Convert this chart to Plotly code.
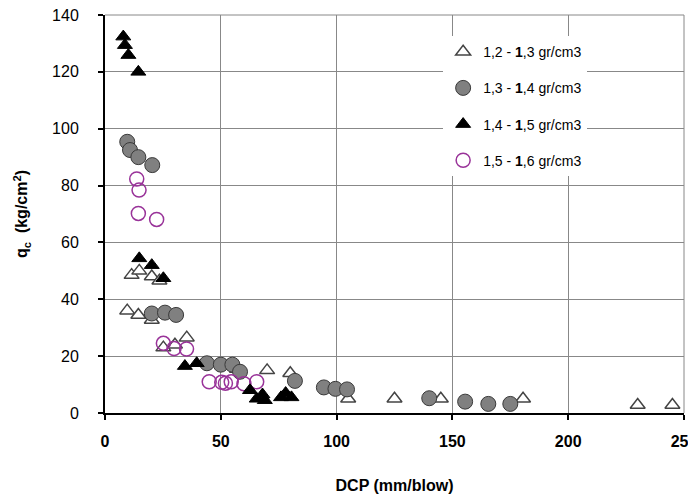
import plotly.graph_objects as go

# 1,2 - 1,3 gr/cm3 (open triangles)
s1_x = [9.6, 11.5, 14.4, 14.8, 20.2, 20.2, 23.5, 25.2, 30.2, 35.3, 57, 70, 80, 105, 125, 145, 180.5, 230, 245]
s1_y = [36, 48.5, 34.5, 50, 48, 32.7, 46.5, 23, 24, 26.5, 15.5, 15, 14, 5, 5, 5, 5, 2.8, 2.8]
# 1,3 - 1,4 gr/cm3 (grey circles)
s2_x = [9.6, 10.8, 14.4, 20.4, 20.2, 25.9, 30.7, 44, 50, 55, 58.3, 82, 94.5, 99.5, 104.5, 140, 155.5, 165.5, 175]
s2_y = [95.4, 92.5, 90, 87.2, 35, 35.3, 34.5, 17.5, 17, 17, 14.5, 11.3, 9, 8.5, 8.3, 5.2, 4, 3.2, 3.2]
# 1,4 - 1,5 gr/cm3 (black triangles)
s3_x = [7.9, 8.6, 10.1, 14.4, 14.8, 20.2, 25.2, 34.5, 39.6, 62.6, 65.5, 68, 69, 76, 78, 80.5]
s3_y = [132.4, 129.4, 125.9, 120, 54.4, 52, 47.4, 16.5, 17.5, 8, 5, 6.5, 4.5, 5.5, 7, 5.5]
# 1,5 - 1,6 gr/cm3 (purple open circles)
s4_x = [13.7, 14.7, 14.4, 22.3, 25.2, 29.8, 35.2, 45, 50.4, 52, 54.5, 60, 65.5]
s4_y = [82.3, 78.4, 70.2, 68.1, 24.5, 22.7, 22.5, 11, 10.8, 10.5, 11, 10.3, 11]

x_ticks = [0, 50, 100, 150, 200, 250]
y_ticks = [0, 20, 40, 60, 80, 100, 120, 140]

names = ["1,2 - <b>1</b>,3 gr/cm3", "1,3 - <b>1</b>,4 gr/cm3", "1,4 - <b>1</b>,5 gr/cm3", "1,5 - <b>1</b>,6 gr/cm3"]

fig = go.Figure()
fig.add_trace(go.Scatter(x=s1_x, y=s1_y, mode="markers", name=names[0], legendrank=1, legendgroup="a",
                         marker=dict(symbol="triangle-up", size=13, color="white",
                                     line=dict(color="#444444", width=1.5))))
fig.add_trace(go.Scatter(x=s2_x, y=s2_y, mode="markers", name=names[1], legendrank=2, legendgroup="b",
                         marker=dict(symbol="circle", size=15, color="#808080",
                                     line=dict(color="#3a3a3a", width=1))))
fig.add_trace(go.Scatter(x=s4_x, y=s4_y, mode="markers", name=names[3], legendrank=4, legendgroup="d",
                         marker=dict(symbol="circle-open", size=14, color="#993399",
                                     line=dict(color="#993399", width=1.5))))
fig.add_trace(go.Scatter(x=s3_x, y=s3_y, mode="markers", name=names[2], legendrank=3, legendgroup="c",
                         marker=dict(symbol="triangle-up", size=13, color="black",
                                     line=dict(color="black", width=1))))

# thin grey frame on the top and right sides of the plot area
fig.add_shape(type="line", xref="paper", yref="paper", x0=0, x1=1, y0=1, y1=1,
              line=dict(color="#888888", width=1), layer="below")
fig.add_shape(type="line", xref="paper", yref="paper", x0=1, x1=1, y0=0, y1=1,
              line=dict(color="#888888", width=1), layer="below")

fig.update_layout(
    width=688, height=486,
    margin=dict(l=97, r=12, t=7, b=81),
    paper_bgcolor="white", plot_bgcolor="white",
    font=dict(family="Liberation Sans, Arial, sans-serif", color="black"),
    showlegend=True,
    legend=dict(x=0.584, y=0.947, xanchor="left", yanchor="top", bgcolor="white",
                font=dict(size=14, color="black"), tracegroupgap=15, itemwidth=30),
    xaxis=dict(range=[0, 250], tickvals=x_ticks, ticktext=["<b>%d</b>" % v for v in x_ticks],
               showgrid=True, automargin=False, ticklabeloverflow="allow",
               gridcolor="#888888", gridwidth=1, showline=True, linecolor="black", linewidth=2,
               ticks="outside", ticklen=5, tickwidth=2, tickcolor="black", zeroline=False,
               tickfont=dict(size=16), ticklabelstandoff=8,
               title=dict(text="<b>DCP (mm/blow)</b>", font=dict(size=16), standoff=38)),
    yaxis=dict(range=[0, 140], tickvals=y_ticks, showgrid=True, automargin=False,
               ticklabeloverflow="allow",
               gridcolor="#888888", gridwidth=1, showline=True, linecolor="black", linewidth=2,
               ticks="outside", ticklen=5, tickwidth=2, tickcolor="black", zeroline=False,
               tickfont=dict(size=16), ticklabelstandoff=16,
               title=dict(text="<b>q<sub>c</sub>  (kg/cm<sup>2</sup>)</b>", font=dict(size=16), standoff=20)),
)

fig.write_html("out.html")
